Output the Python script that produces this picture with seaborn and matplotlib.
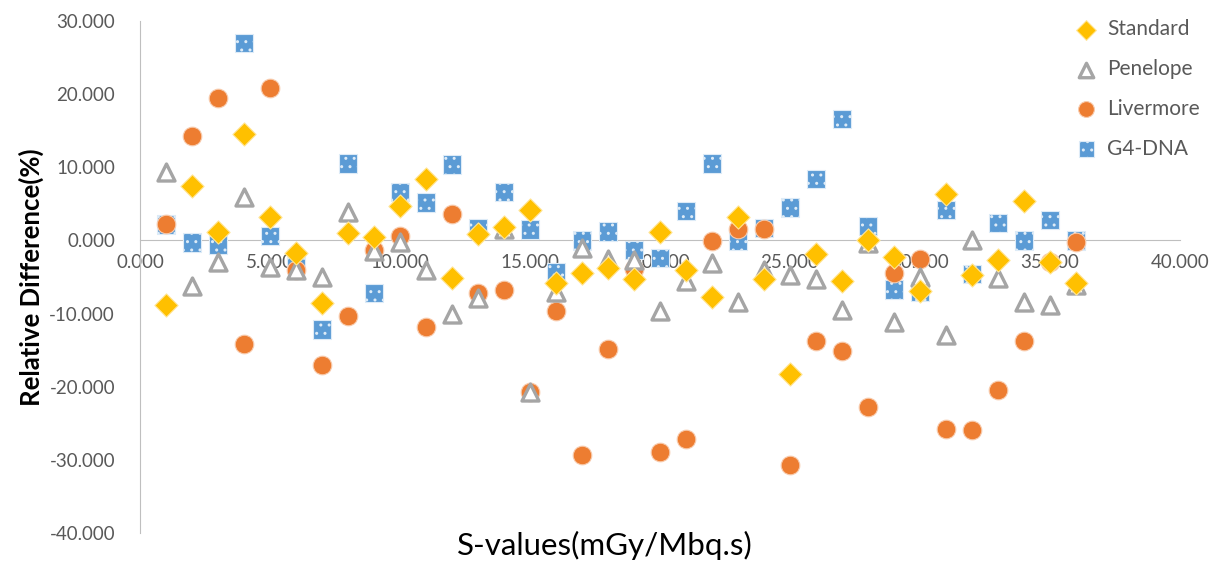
import numpy as np
import pandas as pd
import matplotlib
matplotlib.use("Agg")
import matplotlib.pyplot as plt
import seaborn as sns

# --- data ---
s_values = list(range(1, 37))

standard = [-8.8, 7.5, 1.1, 14.5, 3.2, -1.7, -8.6, 1.0, 0.5, 4.7,
            8.4, -5.1, 0.9, 1.8, 4.2, -5.8, -4.5, -3.8, -5.3, 1.1,
            -4.1, -7.7, 3.2, -5.3, -18.3, -1.9, -5.6, 0.0, -2.2, -6.9,
            6.4, -4.7, -2.7, 5.4, -3.0, -5.8]

penelope = [9.4, -6.2, -3.0, 6.0, -3.6, -4.0, -5.0, 3.9, -1.5, -0.2,
            -4.1, -10.0, -7.9, 1.5, -20.7, -7.0, -1.1, -2.5, -2.7, -9.7,
            -5.6, -3.1, -8.4, -4.0, -4.7, -5.3, -9.5, -0.4, -11.1, -5.0,
            -12.9, 0.0, -5.2, -8.4, -8.8, -6.1]

livermore = [2.2, 14.3, 19.5, -14.2, 20.8, -4.1, -17.0, -10.3, -1.3, 0.6,
             -11.8, 3.6, -7.2, -6.8, -20.7, -9.7, -29.3, -14.9, -3.9, -28.9,
             -27.2, -0.1, 1.5, 1.5, -30.7, -13.8, -15.1, -22.8, -4.5, -2.5,
             -25.8, -25.9, -20.4, -13.8, -3.0, -0.2]

g4dna = [2.2, -0.3, -0.6, 27.0, 0.6, -2.7, -12.2, 10.5, -7.2, 6.6,
         5.2, 10.4, 1.7, 6.6, 1.5, -4.3, 0.0, 1.2, -1.3, -2.4,
         4.0, 10.5, -0.1, 1.7, 4.5, 8.4, 16.6, 2.0, -6.7, -7.0,
         4.2, -4.6, 2.4, 0.0, 2.8, 0.0]

df = pd.DataFrame({"S": s_values, "Standard": standard, "Penelope": penelope,
                   "Livermore": livermore, "G4-DNA": g4dna})

sns.set_style("white")
plt.rcParams["font.family"] = ["Lato", "DejaVu Sans"]
plt.rcParams["hatch.linewidth"] = 1.0

fig = plt.figure(figsize=(12.21, 5.63), dpi=100)
ax = fig.add_axes([0.1147, 0.0533, 0.8517, 0.9094])

# draw order: G4-DNA at the bottom, Standard on top
sns.scatterplot(data=df, x="S", y="G4-DNA", marker="s", s=175, color="#5B9BD5",
                edgecolor="#DDEBF7", linewidth=0.8, hatch="..", label="G4-DNA", zorder=3, ax=ax)
sns.scatterplot(data=df, x="S", y="Livermore", marker="o", s=180, color="#ED7D31",
                edgecolor="#F8CBAD", linewidth=0.8, label="Livermore", zorder=4, ax=ax)
sns.scatterplot(data=df, x="S", y="Penelope", marker="^", s=150, facecolor="white",
                edgecolor="#A5A5A5", linewidth=2.4, label="Penelope", zorder=5, ax=ax)
sns.scatterplot(data=df, x="S", y="Standard", marker="D", s=140, color="#FFC000",
                edgecolor="#FFE699", linewidth=0.8, label="Standard", zorder=6, ax=ax)

ax.set_xlim(0, 40)
ax.set_ylim(-40, 30)
ax.set_xticks(np.arange(0, 41, 5))
ax.set_yticks(np.arange(-40, 31, 10))
ax.xaxis.set_major_formatter(matplotlib.ticker.FormatStrFormatter("%.3f"))
ax.yaxis.set_major_formatter(matplotlib.ticker.FormatStrFormatter("%.3f"))
ax.tick_params(axis="both", length=0, labelsize=13.5, labelcolor="#595959")
ax.tick_params(axis="y", pad=18)
ax.tick_params(axis="x", pad=10)

ax.spines["top"].set_visible(False)
ax.spines["right"].set_visible(False)
ax.spines["bottom"].set_position(("data", 0))
ax.spines["bottom"].set_color("#BFBFBF")
ax.spines["left"].set_color("#BFBFBF")

ax.set_ylabel("Relative Difference(%)", fontsize=18.5, fontweight="bold", color="black", labelpad=4)
ax.set_xlabel("")
fig.text(0.495, 0.032, "S-values(mGy/Mbq.s)", fontsize=22.5, ha="center", va="center", color="black")

# legend in the reference order
handles, labels = ax.get_legend_handles_labels()
order = ["Standard", "Penelope", "Livermore", "G4-DNA"]
hmap = dict(zip(labels, handles))
leg = ax.legend([hmap[k] for k in order], order, loc="upper left",
                bbox_to_anchor=(0.872, 1.04), frameon=False, fontsize=15,
                labelspacing=0.95, handletextpad=0.0, markerscale=0.85)
for t in leg.get_texts():
    t.set_color("#595959")

fig.savefig("out.png", dpi=100)
